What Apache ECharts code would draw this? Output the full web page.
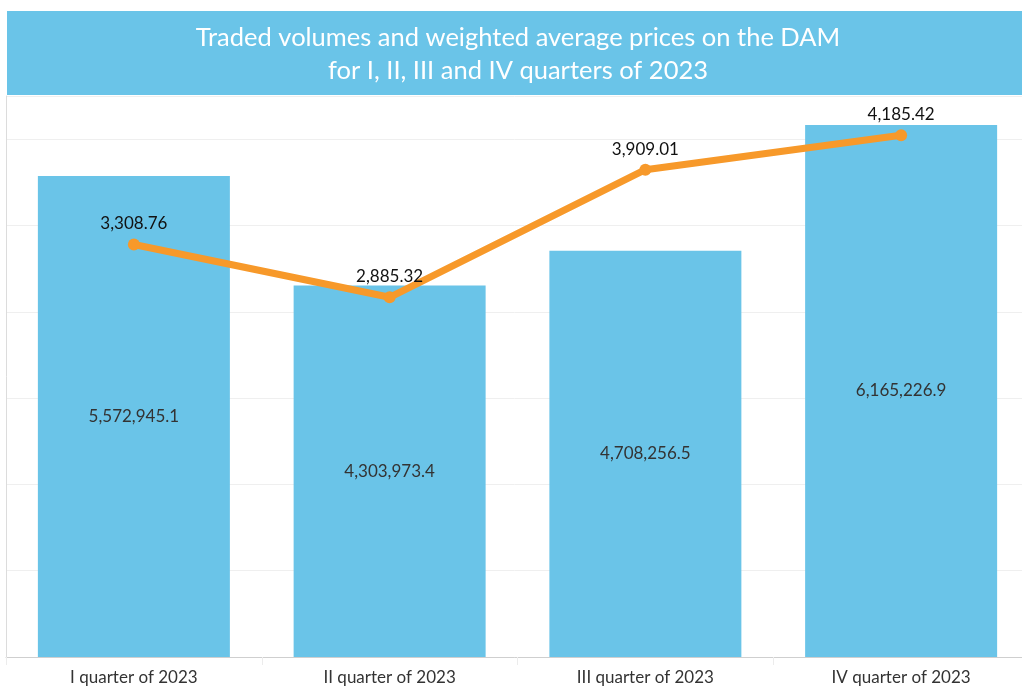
<!DOCTYPE html>
<html>
<head>
<meta charset="utf-8">
<script src="https://cdn.jsdelivr.net/npm/echarts@6/dist/echarts.min.js"></script>
<style>
  html, body { margin: 0; padding: 0; background: #fff; }
  #chart { width: 1022px; height: 687px; }
</style>
</head>
<body>
<div id="chart"></div>
<script>
const quarters = ['I quarter of 2023', 'II quarter of 2023', 'III quarter of 2023', 'IV quarter of 2023']
const volumes = [5572945.1, 4303973.4, 4708256.5, 6165226.9]
const prices = [3308.76, 2885.32, 3909.01, 4185.42]
const titleLines = ['Traded volumes and weighted average prices on the DAM', 'for I, II, III and IV quarters of 2023']

const BAR_COLOR = '#6ac4e8'
const LINE_COLOR = '#f7992a'

const fmt = (v, digits) => v.toLocaleString('en-US', { minimumFractionDigits: digits, maximumFractionDigits: digits })

const chart = echarts.init(document.getElementById('chart'))

const option = {
  animation: false,
  graphic: [
    {
      type: 'rect',
      left: 7, top: 11,
      shape: { width: 1015, height: 84 },
      style: { fill: BAR_COLOR },
      z: 10,
    },
    {
      type: 'text',
      x: 518, y: 21,
      style: {
        text: titleLines.join('\n'),
        fill: '#ffffff',
        font: '25.5px Lato',
        lineHeight: 33,
        align: 'center',
        verticalAlign: 'top',
      },
      z: 11,
    },
  ],
  grid: { left: 6, top: 96, width: 1023, height: 561, outerBoundsMode: 'none' },
  xAxis: {
    type: 'category',
    data: quarters,
    axisLine: { lineStyle: { color: '#cfcfcf', width: 1 } },
    axisTick: { show: true, length: 8, lineStyle: { color: '#ececec' } },
    axisLabel: { color: '#333', fontSize: 17, fontFamily: 'Lato', margin: 12 },
  },
  yAxis: [
    {
      type: 'value',
      min: 0, max: 6500000, interval: 1000000,
      axisLabel: { show: false },
      axisTick: { show: false },
      axisLine: { show: true, lineStyle: { color: '#dcdcdc' } },
      splitLine: { lineStyle: { color: '#efefef', width: 1 } },
    },
    {
      type: 'value',
      min: 0, max: 4500,
      axisLabel: { show: false },
      axisTick: { show: false },
      axisLine: { show: false },
      splitLine: { show: false },
    },
  ],
  series: [
    {
      name: 'Volume',
      type: 'bar',
      data: volumes,
      barWidth: 192,
      itemStyle: { color: BAR_COLOR },
      label: {
        show: true,
        position: 'inside',
        color: '#333',
        fontSize: 17,
        fontFamily: 'Lato',
        formatter: (p) => fmt(p.value, 1),
      },
    },
    {
      name: 'Price',
      type: 'line',
      yAxisIndex: 1,
      data: prices,
      symbol: 'circle',
      symbolSize: 12,
      lineStyle: { color: LINE_COLOR, width: 7 },
      itemStyle: { color: LINE_COLOR },
      label: {
        show: true,
        position: 'top',
        distance: 6,
        color: '#111',
        fontSize: 17,
        fontFamily: 'Lato',
        formatter: (p) => fmt(p.value, 2),
      },
      z: 5,
    },
  ],
}

chart.setOption(option)
</script>
</body>
</html>
